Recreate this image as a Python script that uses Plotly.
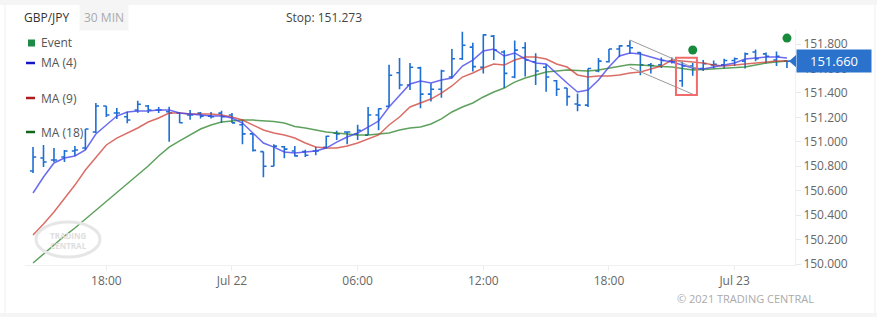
import pandas as pd
import plotly.graph_objects as go

# ---------------- data ----------------
start_time = "2021-07-21 14:30"
n_bars = 73
times = pd.date_range(start_time, periods=n_bars, freq="30min")

opens = [150.761, 150.867, 150.851, 150.876, 150.925, 150.949, 151.080, 151.293, 151.236, 151.205,
         151.260, 151.293, 151.260, 151.246, 151.236, 151.220, 151.235, 151.210, 151.235, 151.220,
         151.140, 151.065, 150.920, 150.800, 150.960, 150.925, 150.920, 150.925, 150.955, 151.070,
         151.080, 151.065, 151.055, 151.220, 151.290, 151.565, 151.465, 151.605, 151.390, 151.430,
         151.530, 151.680, 151.775, 151.610, 151.865, 151.735, 151.530, 151.770, 151.655, 151.610,
         151.500, 151.440, 151.310, 151.300, 151.580, 151.655, 151.760, 151.785, 151.730, 151.630,
         151.630, 151.660, 151.500, 151.620, 151.600, 151.630, 151.630, 151.665, 151.660, 151.735,
         151.720, 151.670, 151.660]
highs = [150.957, 150.974, 150.949, 150.933, 150.966, 151.105, 151.317, 151.293, 151.277, 151.246,
         151.336, 151.301, 151.285, 151.287, 151.244, 151.260, 151.245, 151.245, 151.255, 151.235,
         151.180, 151.065, 150.920, 150.980, 150.965, 150.965, 150.935, 150.960, 151.050, 151.090,
         151.083, 151.140, 151.285, 151.275, 151.630, 151.685, 151.645, 151.615, 151.480, 151.590,
         151.760, 151.900, 151.810, 151.880, 151.875, 151.750, 151.830, 151.815, 151.725, 151.635,
         151.505, 151.440, 151.395, 151.600, 151.685, 151.760, 151.790, 151.830, 151.735, 151.645,
         151.690, 151.690, 151.655, 151.645, 151.670, 151.665, 151.680, 151.690, 151.730, 151.755,
         151.730, 151.740, 151.665]
lows = [150.745, 150.794, 150.835, 150.835, 150.884, 150.933, 151.072, 151.203, 151.187, 151.151,
        151.238, 151.236, 151.236, 151.001, 151.154, 151.180, 151.190, 151.190, 151.155, 151.155,
        150.980, 150.920, 150.710, 150.800, 150.865, 150.880, 150.875, 150.890, 150.945, 151.015,
        150.980, 151.015, 151.055, 151.095, 151.290, 151.430, 151.425, 151.275, 151.330, 151.360,
        151.520, 151.670, 151.575, 151.560, 151.670, 151.440, 151.520, 151.535, 151.465, 151.410,
        151.375, 151.295, 151.250, 151.285, 151.570, 151.650, 151.695, 151.720, 151.545, 151.560,
        151.605, 151.640, 151.450, 151.540, 151.580, 151.600, 151.600, 151.620, 151.600, 151.660,
        151.640, 151.620, 151.605]
closes = [150.876, 150.835, 150.851, 150.925, 150.933, 151.105, 151.293, 151.219, 151.236, 151.178,
          151.307, 151.260, 151.260, 151.236, 151.156, 151.220, 151.210, 151.205, 151.205, 151.155,
          151.065, 150.930, 150.800, 150.965, 150.940, 150.885, 150.890, 150.925, 151.045, 151.065,
          151.080, 151.095, 151.220, 151.270, 151.545, 151.465, 151.610, 151.390, 151.430, 151.580,
          151.680, 151.790, 151.615, 151.875, 151.750, 151.560, 151.750, 151.670, 151.580, 151.530,
          151.430, 151.370, 151.300, 151.600, 151.660, 151.760, 151.785, 151.770, 151.630, 151.625,
          151.665, 151.655, 151.620, 151.600, 151.640, 151.635, 151.665, 151.680, 151.720, 151.680,
          151.700, 151.700, 151.660]

ma4 = [150.581, 150.712, 150.827, 150.867, 150.884, 150.933, 151.064, 151.138, 151.211, 151.244,
       151.252, 151.252, 151.260, 151.260, 151.236, 151.228, 151.219, 151.211, 151.211, 151.195,
       151.154, 151.072, 150.990, 150.957, 150.917, 150.908, 150.917, 150.925, 150.949, 150.998,
       151.039, 151.072, 151.121, 151.170, 151.285, 151.383, 151.473, 151.498, 151.481, 151.506,
       151.522, 151.620, 151.669, 151.743, 151.759, 151.702, 151.727, 151.678, 151.645, 151.637,
       151.555, 151.481, 151.408, 151.424, 151.506, 151.612, 151.702, 151.727, 151.719, 151.694,
       151.669, 151.653, 151.628, 151.604, 151.596, 151.612, 151.628, 151.645, 151.678, 151.686,
       151.694, 151.694, 151.686]
ma9 = [150.237, 150.327, 150.426, 150.532, 150.646, 150.769, 150.876, 150.974, 151.031, 151.072,
       151.113, 151.162, 151.195, 151.236, 151.236, 151.228, 151.228, 151.228, 151.219, 151.203,
       151.178, 151.138, 151.097, 151.072, 151.056, 151.031, 150.990, 150.957, 150.949, 150.949,
       150.966, 150.990, 151.023, 151.056, 151.138, 151.203, 151.285, 151.318, 151.350, 151.399,
       151.457, 151.530, 151.563, 151.604, 151.637, 151.628, 151.669, 151.694, 151.694, 151.678,
       151.637, 151.612, 151.547, 151.530, 151.538, 151.538, 151.547, 151.563, 151.571, 151.596,
       151.620, 151.669, 151.661, 151.653, 151.645, 151.628, 151.620, 151.628, 151.637, 151.645,
       151.653, 151.661, 151.661]
ma18 = [150.008, 150.082, 150.156, 150.229, 150.295, 150.368, 150.442, 150.516, 150.589, 150.655,
        150.728, 150.802, 150.884, 150.957, 151.007, 151.056, 151.105, 151.138, 151.162, 151.170,
        151.178, 151.178, 151.174, 151.166, 151.154, 151.125, 151.113, 151.097, 151.080, 151.072,
        151.064, 151.056, 151.056, 151.064, 151.072, 151.097, 151.113, 151.121, 151.146, 151.187,
        151.244, 151.285, 151.318, 151.367, 151.408, 151.440, 151.489, 151.522, 151.547, 151.571,
        151.579, 151.588, 151.583, 151.579, 151.588, 151.604, 151.620, 151.633, 151.628, 151.620,
        151.616, 151.612, 151.600, 151.588, 151.592, 151.596, 151.604, 151.608, 151.612, 151.628,
        151.645, 151.653, 151.661]

event_times = ["2021-07-22 22:00", "2021-07-23 02:30"]
event_prices = [151.751, 151.849]

channel_upper_t = ["2021-07-22 19:00", "2021-07-22 22:15"]
channel_upper_p = [151.833, 151.590]
channel_lower_t = ["2021-07-22 19:00", "2021-07-22 22:00"]
channel_lower_p = [151.610, 151.390]
box_t = ["2021-07-22 21:12", "2021-07-22 22:12"]
box_p = [151.383, 151.688]

stop_level = 151.273
last_price = 151.660

x_tick_vals = ["2021-07-21 18:00", "2021-07-22 00:00", "2021-07-22 06:00",
               "2021-07-22 12:00", "2021-07-22 18:00", "2021-07-23 00:00"]
x_tick_text = ["18:00", "Jul 22", "06:00", "12:00", "18:00", "Jul 23"]
y_tick_vals = [150.0, 150.2, 150.4, 150.6, 150.8, 151.0, 151.2, 151.4, 151.6, 151.8]

# ---------------- layout helpers ----------------
W, H = 877, 317
ML, MR, MT, MB = 25, 82, 30, 52
PW, PH = W - ML - MR, H - MT - MB


def px(x):
    return (x - ML) / PW


def py(y):
    return (H - MB - y) / PH


BAR = "#1d6fd3"
FONT = "Open Sans, Noto Sans, sans-serif"

fig = go.Figure()

fig.add_trace(go.Scatter(x=times, y=ma18, mode="lines",
                         line=dict(color="rgba(40,130,40,0.75)", width=1.5), hoverinfo="skip"))
fig.add_trace(go.Scatter(x=times, y=ma9, mode="lines",
                         line=dict(color="rgba(205,60,50,0.75)", width=1.5), hoverinfo="skip"))
fig.add_trace(go.Scatter(x=times, y=ma4, mode="lines",
                         line=dict(color="rgba(70,70,235,0.8)", width=1.5), hoverinfo="skip"))

fig.add_trace(go.Ohlc(x=times, open=opens, high=highs, low=lows, close=closes,
                      increasing=dict(line=dict(color=BAR, width=1.6)),
                      decreasing=dict(line=dict(color=BAR, width=1.6)),
                      tickwidth=0.3, hoverinfo="skip"))

# channel lines
fig.add_trace(go.Scatter(x=channel_upper_t, y=channel_upper_p, mode="lines",
                         line=dict(color="#9a9a9a", width=1), hoverinfo="skip"))
fig.add_trace(go.Scatter(x=channel_lower_t, y=channel_lower_p, mode="lines",
                         line=dict(color="#9a9a9a", width=1), hoverinfo="skip"))

# event markers
fig.add_trace(go.Scatter(x=event_times, y=event_prices, mode="markers",
                         marker=dict(color="#178a3c", size=9), hoverinfo="skip"))

shapes = []
# red box
shapes.append(dict(type="rect", xref="x", yref="y", x0=box_t[0], x1=box_t[1],
                   y0=box_p[0], y1=box_p[1], line=dict(color="#f26b6b", width=2)))
# frame
shapes.append(dict(type="rect", xref="paper", yref="paper", x0=px(0), x1=px(W),
                   y0=py(0), y1=py(5), fillcolor="#f5f5f5", line=dict(width=0), layer="below"))
shapes.append(dict(type="rect", xref="paper", yref="paper", x0=px(0), x1=px(W),
                   y0=py(313), y1=py(H), fillcolor="#f5f5f5", line=dict(width=0), layer="below"))
shapes.append(dict(type="line", xref="paper", yref="paper", x0=px(5), x1=px(5),
                   y0=py(5), y1=py(313), line=dict(color="#efefef", width=1)))
shapes.append(dict(type="line", xref="paper", yref="paper", x0=px(875), x1=px(875),
                   y0=py(5), y1=py(313), line=dict(color="#efefef", width=1)))
# legend keys
shapes.append(dict(type="rect", xref="paper", yref="paper", x0=px(28), x1=px(35),
                   y0=py(39.5), y1=py(46.5), fillcolor="#1f8a45", line=dict(width=0)))
for yy, col in [(63, "#1515c8"), (98, "#b01a1a"), (132, "#11661a")]:
    shapes.append(dict(type="line", xref="paper", yref="paper", x0=px(26), x1=px(35),
                       y0=py(yy), y1=py(yy), line=dict(color=col, width=2.5)))
# watermark
shapes.append(dict(type="circle", xref="paper", yref="paper", x0=px(36), x1=px(100),
                   y0=py(257), y1=py(222), line=dict(color="#e6e6e6", width=3)))
# last price arrow
shapes.append(dict(type="path", xref="paper", yref="y",
                   path=f"M {px(789)},{last_price} L {px(796)},{last_price + 0.05} "
                        f"L {px(796)},{last_price - 0.05} Z",
                   fillcolor="#2a72cc", line=dict(width=0)))

ann = []


def text(x, y, s, size=12, color="#555", anchor="left", **kw):
    ann.append(dict(xref="paper", yref="paper", x=px(x), y=py(y), text=s, showarrow=False,
                    xanchor=anchor, yanchor="middle", font=dict(size=size, color=color, family=FONT),
                    **kw))


text(22, 17, "GBP/JPY", size=12, color="#333")
text(104, 17, "30 MIN", size=12, color="#aaaaaa", anchor="center",
     bgcolor="#f5f5f5", borderpad=4)
text(284, 17, f"Stop: {stop_level:.3f}", size=12, color="#444")
text(39, 43, "Event", size=12, color="#555")
text(39, 63, "MA (4)", size=12, color="#555")
text(39, 98, "MA (9)", size=12, color="#555")
text(39, 132, "MA (18)", size=12, color="#555")
text(745, 298, "© 2021 TRADING CENTRAL", size=11, color="#aaaaaa", anchor="center")
text(68, 240, "<b>TRADING<br>CENTRAL</b>", size=8, color="#dedede", anchor="center")
ann.append(dict(xref="paper", yref="y", x=px(796), y=last_price, text=f"{last_price:.3f}",
                showarrow=False, xanchor="left", yanchor="middle",
                font=dict(size=13, color="white", family=FONT),
                bgcolor="#2a72cc", borderpad=2, width=70, align="center"))

fig.update_layout(
    width=W, height=H,
    margin=dict(l=ML, r=MR, t=MT, b=MB),
    paper_bgcolor="white", plot_bgcolor="white",
    showlegend=False,
    shapes=shapes, annotations=ann,
    font=dict(family=FONT, size=12, color="#666"),
    xaxis=dict(type="date", range=["2021-07-21 14:07", "2021-07-23 02:53"],
               tickvals=x_tick_vals, ticktext=x_tick_text, showgrid=False,
               showline=True, linecolor="#f0f0f0", ticks="outside", ticklen=5,
               tickcolor="#eeeeee", rangeslider=dict(visible=False),
               tickfont=dict(size=12, color="#666"), zeroline=False),
    yaxis=dict(side="right", range=[149.992, 151.915], tickvals=y_tick_vals,
               tickformat=".3f", showgrid=False, showline=True, linecolor="#f0f0f0",
               ticks="outside", ticklen=5, tickcolor="#e8e8e8",
               tickfont=dict(size=12, color="#666"), zeroline=False),
)

fig.write_html("out.html")
